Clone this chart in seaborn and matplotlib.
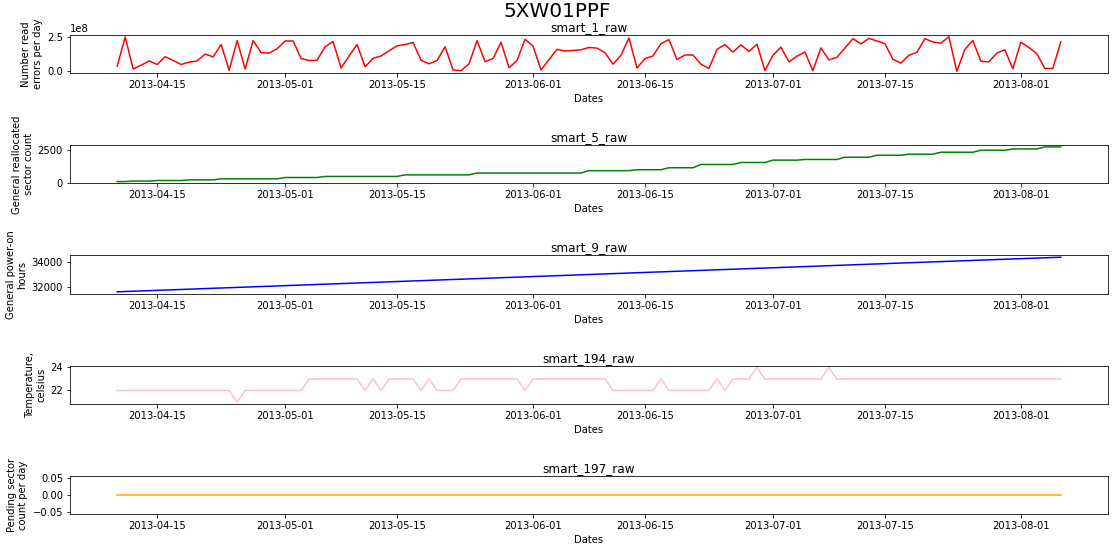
import matplotlib
matplotlib.use("Agg")
import matplotlib.pyplot as plt
import seaborn as sns
import pandas as pd

# ---------------- data ----------------
serial_number = "5XW01PPF"
dates = pd.date_range("2013-04-10", "2013-08-06", freq="D")

smart_1_raw = [
    0.38e8, 2.50e8, 0.17e8, 0.45e8, 0.76e8, 0.50e8, 1.07e8, 0.79e8, 0.50e8, 0.67e8,
    0.76e8, 1.26e8, 1.05e8, 1.95e8, 0.07e8, 2.24e8, 0.17e8, 2.24e8, 1.36e8, 1.33e8,
    1.64e8, 2.21e8, 2.21e8, 0.93e8, 0.79e8, 0.81e8, 1.79e8, 2.17e8, 0.24e8, 1.12e8,
    1.95e8, 0.33e8, 0.95e8, 1.12e8, 1.50e8, 1.86e8, 1.95e8, 2.10e8, 0.81e8,
    0.55e8, 0.79e8, 1.79e8, 0.10e8, 0.05e8, 0.55e8, 2.24e8, 0.71e8, 0.93e8, 2.12e8,
    0.26e8, 0.79e8, 2.33e8, 1.83e8, 0.10e8, 0.86e8, 1.60e8, 1.48e8, 1.52e8, 1.57e8,
    1.74e8, 1.69e8, 1.36e8, 0.52e8, 1.17e8, 2.43e8, 0.24e8, 0.93e8, 1.12e8, 2.02e8,
    2.31e8, 0.86e8, 1.19e8, 1.19e8, 0.52e8, 0.21e8, 1.60e8, 1.95e8, 1.40e8, 1.93e8,
    1.45e8, 1.98e8, 0.05e8, 1.17e8, 1.76e8, 0.69e8, 1.10e8, 1.40e8, 0.05e8, 1.71e8,
    0.83e8, 1.02e8, 1.69e8, 2.38e8, 2.00e8, 2.40e8, 2.21e8, 2.02e8, 0.88e8, 0.60e8,
    1.17e8, 1.38e8, 2.38e8, 2.14e8, 2.05e8, 2.52e8, 0.00e8, 1.60e8, 2.24e8, 0.74e8,
    0.69e8, 1.33e8, 1.57e8, 0.19e8, 2.12e8, 1.74e8, 1.29e8, 0.21e8, 0.21e8, 2.14e8,
]

smart_5_raw = [
    110, 110, 150, 150, 150, 190, 190, 190, 190, 240,
    240, 240, 240, 320, 320, 320, 320, 320, 320, 320,
    320, 420, 420, 420, 420, 420, 500, 500, 500, 500,
    500, 500, 500, 500, 500, 500, 620, 620, 620, 620,
    620, 620, 620, 620, 620, 760, 760, 760, 760, 760,
    760, 760, 760, 760, 760, 760, 760, 760, 760, 940,
    940, 940, 940, 940, 940, 1010, 1010, 1010, 1010, 1160,
    1160, 1160, 1160, 1410, 1410, 1410, 1410, 1410, 1560, 1560,
    1560, 1560, 1740, 1740, 1740, 1740, 1790, 1790, 1790, 1790,
    1790, 1960, 1960, 1960, 1960, 2110, 2110, 2110, 2110, 2190,
    2190, 2190, 2190, 2340, 2340, 2340, 2340, 2340, 2490, 2490,
    2490, 2490, 2590, 2590, 2590, 2590, 2740, 2740, 2740,
]

smart_9_raw = [
    31595, 31619, 31643, 31667, 31691, 31715, 31739, 31763, 31787, 31811,
    31835, 31859, 31883, 31907, 31931, 31955, 31979, 32003, 32027, 32051,
    32075, 32099, 32123, 32147, 32171, 32195, 32219, 32243, 32267, 32291,
    32315, 32339, 32363, 32387, 32411, 32435, 32459, 32483, 32507, 32531,
    32555, 32579, 32603, 32627, 32651, 32675, 32699, 32723, 32747, 32771,
    32795, 32819, 32843, 32867, 32891, 32915, 32939, 32963, 32987, 33011,
    33035, 33059, 33083, 33107, 33131, 33155, 33179, 33203, 33227, 33251,
    33275, 33299, 33323, 33347, 33371, 33395, 33419, 33443, 33467, 33491,
    33515, 33539, 33563, 33587, 33611, 33635, 33659, 33683, 33707, 33731,
    33755, 33779, 33803, 33827, 33851, 33875, 33899, 33923, 33947, 33971,
    33995, 34019, 34043, 34067, 34091, 34115, 34139, 34163, 34187, 34211,
    34235, 34259, 34283, 34307, 34331, 34355, 34379, 34403, 34427,
]

smart_194_raw = [
    22, 22, 22, 22, 22, 22, 22, 22, 22, 22,
    22, 22, 22, 22, 22, 21, 22, 22, 22, 22,
    22, 22, 22, 22, 23, 23, 23, 23, 23, 23,
    23, 22, 23, 22, 23, 23, 23, 23, 22, 23,
    22, 22, 22, 23, 23, 23, 23, 23, 23, 23,
    23, 22, 23, 23, 23, 23, 23, 23, 23, 23,
    23, 23, 22, 22, 22, 22, 22, 22, 23, 22,
    22, 22, 22, 22, 22, 23, 22, 23, 23, 23,
    24, 23, 23, 23, 23, 23, 23, 23, 23, 24,
    23, 23, 23, 23, 23, 23, 23, 23, 23, 23,
    23, 23, 23, 23, 23, 23, 23, 23, 23, 23,
    23, 23, 23, 23, 23, 23, 23, 23, 23,
]

smart_197_raw = [
    0, 0, 0, 0, 0, 0, 0, 0, 0, 0, 0, 0, 0, 0, 0, 0, 0, 0, 0, 0,
    0, 0, 0, 0, 0, 0, 0, 0, 0, 0, 0, 0, 0, 0, 0, 0, 0, 0, 0, 0,
    0, 0, 0, 0, 0, 0, 0, 0, 0, 0, 0, 0, 0, 0, 0, 0, 0, 0, 0, 0,
    0, 0, 0, 0, 0, 0, 0, 0, 0, 0, 0, 0, 0, 0, 0, 0, 0, 0, 0, 0,
    0, 0, 0, 0, 0, 0, 0, 0, 0, 0, 0, 0, 0, 0, 0, 0, 0, 0, 0, 0,
    0, 0, 0, 0, 0, 0, 0, 0, 0, 0, 0, 0, 0, 0, 0, 0, 0, 0, 0,
]

panel_titles = ["smart_1_raw", "smart_5_raw", "smart_9_raw", "smart_194_raw", "smart_197_raw"]
panel_ylabels = [
    "Number read\nerrors per day",
    "General reallocated\nsector count",
    "General power-on\nhours",
    "Temperature,\ncelsius",
    "Pending sector\ncount per day",
]
panel_colors = ["red", "green", "blue", "pink", "orange"]
panel_values = [smart_1_raw, smart_5_raw, smart_9_raw, smart_194_raw, smart_197_raw]

# ---------------- plot ----------------
fig, axes = plt.subplots(5, 1, figsize=(1115 / 72, 551 / 72), dpi=72)
fig.subplots_adjust(left=70 / 1115, right=1108 / 1115, top=1 - 35 / 551,
                    bottom=1 - 514 / 551, hspace=72 / 38)

for ax, title, ylab, color, vals in zip(axes, panel_titles, panel_ylabels,
                                         panel_colors, panel_values):
    df = pd.DataFrame({"Dates": dates, "value": vals})
    sns.lineplot(data=df, x="Dates", y="value", ax=ax, color=color, linewidth=1.5)
    ax.set_title(title, fontsize=12, pad=4)
    ax.set_xlabel("Dates")
    ax.set_ylabel(ylab)

fig.suptitle(serial_number, fontsize=20, y=0.997)
fig.savefig("out.png", dpi=72)
